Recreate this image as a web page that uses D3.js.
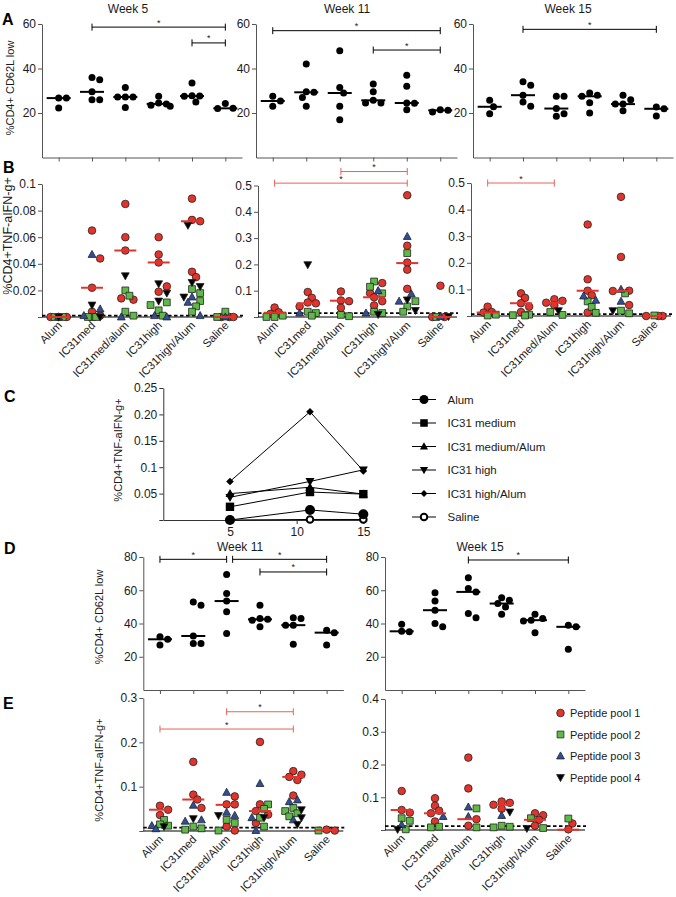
<!DOCTYPE html>
<html><head><meta charset="utf-8">
<script src="https://cdn.jsdelivr.net/npm/d3@7"></script>
<style>
body{margin:0;background:#fff;}
svg{display:block;font-family:"Liberation Sans",Arial,Helvetica,sans-serif;}
</style></head><body>
<svg id="chart" width="676" height="897"></svg>
<script>
// ---------------- DATA ----------------
const categories = ["Alum","IC31med","IC31med/Alum","IC31high","IC31high/Alum","Saline"];
const categoriesWeek5Labels = ["Alum","IC31med","IC31med/alum","IC31high","IC31high/Alum","Saline"];
const weekTitlesA = ["Week 5","Week 11","Week 15"];
const weekTitlesD = ["Week 11","Week 15"];

// Panel A: %CD4+ CD62L low, one array per category
const aWeek5  = [[26.7,26.7,22.2],[36,35,29.5,26,26],[31.5,27.2,27.2,27.2,22.5],[27.5,24.5,24.1,23.5,23],[33.5,27.8,27.6,27.5,25],[24.3,22.1,22]];
const aWeek11 = [[27.5,25.4,23],[42,29.5,29.3,27,23],[48,31.5,29,23,17],[33,29.5,25.7,24.5,24.5],[37,32,24.5,24.4,21.5],[21.5,21.2,20.5]];
const aWeek15 = [[25.7,22.8,19.7],[34,32.5,28,25,23],[27.5,27.5,22,19.7,18.5],[29,28,27.5,24.6,20],[28,26,24,24,21],[22.7,21.9,18.7]];
const aTicks = [20,40,60];
const aTickLabels = ["20","40","60"];
// significance brackets [from, to, level]
const aBrackets5  = [["IC31med","Saline",58.6],["IC31high/Alum","Saline",51.5]];
const aBrackets11 = [["Alum","Saline",57],["IC31high","Saline",48.3]];
const aBrackets15 = [["IC31med","Saline",57.6]];

// Panel B: %CD4+TNF-a IFN-g+, per peptide pool, per category
const bWeek5Pool1 = [[0,0,0],[0.065,0.044,0.022,0.004,0.001],[0.085,0.060,0.050,0.014,0.013],[0.060,0.047,0.041,0.023,0.019],[0.089,0.073,0.072,0.034,0.030],[0,0,0]];
const bWeek5Pool2 = [[0,0],[0,0,0],[0.020,0.016,0.004,0.001],[0.011,0.009,0.005,0.001],[0.021,0.018,0.012,0.008,0.004],[0.004,0]];
const bWeek5Pool3 = [[0],[0.047,0.006,0.001],[0],[0.001,0],[0.015,0.011,0.001],[0]];
const bWeek5Pool4 = [[0],[0.009,0],[0.031],[0.025,0.018,0.012],[0.069,0.026,0.023,0.015],[]];
const bWeek5Median = [0,0.022,0.050,0.041,0.072,0];

const bWeek11Pool1 = [[0.036,0.018,0.012],[0.095,0.073,0.055,0.052,0.040],[0.097,0.063,0.060,0.035],[0.129,0.091,0.075,0.060,0.044],[0.463,0.271,0.207,0.180,0.107],[0.119,0,0]];
const bWeek11Pool2 = [[0.005,0,0],[0.020,0.015,0.005],[0.008,0.003],[0.135,0.115,0.090,0.020,0.015],[0.243,0.060,0.040,0.020],[0]];
const bWeek11Pool3 = [[],[0.015],[],[0.100,0.015],[0.306,0.088,0.060],[0.002]];
const bWeek11Pool4 = [[],[0.199],[],[0.010],[0.065,0.025],[0.002]];
const bWeek11Median = [0.016,0.052,0.062,0.075,0.205,0];

const bWeek15Pool1 = [[0.035,0.015,0.013],[0.085,0.068,0.048,0.035,0.015],[0.063,0.057,0.050,0.040],[0.344,0.138,0.095,0.078,0.013],[0.448,0.222,0.095,0.094,0.041],[0,0,0]];
const bWeek15Pool2 = [[0.005,0.002],[0.005,0.003,0.002],[0.015,0.004],[0.055,0.034,0.012],[0.085,0.020,0.010],[0.002]];
const bWeek15Pool3 = [[],[],[],[0.075,0.059],[0.100,0.055],[]];
const bWeek15Pool4 = [[],[],[0.020],[],[0.020],[]];
const bWeek15Median = [0.013,0.048,0.050,0.095,0.094,0];

const bTicksSmall = [0,0.02,0.04,0.06,0.08,0.1];
const bTickLabelsSmall = ["","0.02","0.04","0.06","0.08","0.1"];
const bTicksLarge = [0,0.1,0.2,0.3,0.4,0.5];
const bTickLabelsLarge = ["","0.1","0.2","0.3","0.4","0.5"];
const bThresholds = [0.001,0.015,0.007];
const bBrackets11 = [["Alum","IC31high/Alum",0.509],["IC31med/Alum","IC31high/Alum",0.553]];
const bBrackets15 = [["Alum","IC31med/Alum",0.5]];

// Panel C: group medians over time
const cWeeks = [5,11,15];
const cSeriesNames = ["Alum","IC31 medium","IC31 medium/Alum","IC31 high","IC31 high/Alum","Saline"];
const cAlum = [0,0.019,0.011];
const cIC31Medium = [0.025,0.053,0.049];
const cIC31MediumAlum = [0.050,0.062,0.049];
const cIC31High = [0.043,0.073,0.095];
const cIC31HighAlum = [0.073,0.205,0.093];
const cSaline = [0,0.001,0.001];
const cXTicks = [5,10,15];
const cYTicks = [0,0.05,0.1,0.15,0.20,0.25];
const cYTickLabels = ["","0.05","0.1","0.15","0.20","0.25"];

// Panel D: %CD4+ CD62L low
const dWeek11 = [[32,30.5,27],[53,51,32.5,28,28],[69.5,58,53.5,47,34],[51,43,42.5,42,38],[43.5,43,39,39,27.5],[36,34.5,27]];
const dWeek15 = [[39.5,35.3,35],[58.5,53.5,48,40,38],[67.5,61,59,46,43.5],[55.5,54,52,50,45.5],[45.5,43,42,41.5,34.5],[39,38,24.5]];
const dTicks = [20,40,60,80];
const dTickLabels = ["20","40","60","80"];
const dBrackets11 = [["Alum","IC31med/Alum",78.6],["IC31med/Alum","Saline",78.6],["IC31high","Saline",71]];
const dBrackets15 = [["IC31med/Alum","Saline",78.2]];

// Panel E: %CD4+TNF-a IFN-g+
const eWeek11Pool1 = [[0.057,0.048,0.036],[0.156,0.082,0.071,0.052],[0.078,0.060,0.060,0.010,0.001],[0.201,0.060,0.045,0.037,0.018],[0.135,0.127,0.122,0.115,0.080],[0.003,0.001]];
const eWeek11Pool2 = [[0.025,0.015,0.012],[0.010,0.006,0.003],[0.025,0.018,0.001],[0.060,0.050,0.030,0.010],[0.052,0.045,0.040,0.033],[0.001]];
const eWeek11Pool3 = [[0.012,0.005],[0.058,0.025,0.022],[0.087,0.042,0.035],[0.107,0.030,0.001],[0.070,0.066,0.025],[]];
const eWeek11Pool4 = [[0.010],[0.028],[0.035],[0.030],[0.048,0.030,0.015],[]];
const eWeek11Median = [0.048,0.071,0.059,0.045,0.122,0.002];

const eWeek15Pool1 = [[0.119,0.061,0.053],[0.097,0.074,0.059,0.051,0.026],[0.221,0.127,0.033,0.013],[0.087,0.083,0.077,0.065],[0.051,0.045,0.031,0.013],[0.020,0.002]];
const eWeek15Pool2 = [[0.036,0.028,0.002],[0.010,0.008],[0.066,0.008],[0.013,0.010,0.008],[0.036,0.006],[0.035]];
const eWeek15Pool3 = [[0.016],[0.041],[0.070,0.041],[0.044],[],[]];
const eWeek15Pool4 = [[0.002],[],[],[0.055],[0.005],[]];
const eWeek15Median = [0.061,0.051,0.033,0.077,0.031,0.001];

const eTicks11 = [0,0.1,0.2,0.3];
const eTickLabels11 = ["","0.1","0.2","0.3"];
const eTicks15 = [0,0.1,0.2,0.3,0.4];
const eTickLabels15 = ["","0.1","0.2","0.3","0.4"];
const eThresholds = [0.0077,0.012];
const eBrackets11 = [["IC31med/Alum","IC31high/Alum",0.269],["Alum","IC31high/Alum",0.23]];
const poolNames = ["Peptide pool 1","Peptide pool 2","Peptide pool 3","Peptide pool 4"];

// ---------------- STYLE / LAYOUT ----------------
const RED="#e3342c", GREEN="#5dba47", BLUE="#2f4f9d", BLK="#000";
const AXIS="#555", TXT="#1a1a1a";
const TICKFONT = 12;
const poolStyle = [{t:"circle",f:RED},{t:"square",f:GREEN},{t:"triUp",f:BLUE},{t:"triDown",f:BLK}];

const svg = d3.select("#chart");
svg.append("rect").attr("width",676).attr("height",897).attr("fill","#fff");

function shapePath(t,s){
  if(t==="square") return `M${-s},${-s}H${s}V${s}H${-s}Z`;
  if(t==="triUp") return `M0,${-s*1.05}L${s},${s*0.75}L${-s},${s*0.75}Z`;
  if(t==="triDown") return `M0,${s*1.05}L${s},${-s*0.75}L${-s},${-s*0.75}Z`;
  if(t==="diamond") return `M0,${-s}L${s},0L0,${s}L${-s},0Z`;
  return "";
}
function drawMarker(g,t,x,y,s,fill,stroke,sw){
  if(t==="circle"||t==="open"){
    g.append("circle").attr("cx",x).attr("cy",y).attr("r",s)
      .attr("fill",fill).attr("stroke",stroke).attr("stroke-width",sw);
  } else {
    g.append("path").attr("d",shapePath(t,s)).attr("transform",`translate(${x},${y})`)
      .attr("fill",fill).attr("stroke",stroke).attr("stroke-width",sw).attr("stroke-linejoin","miter");
  }
}

function swarm(items,xc,y,r,maxOff,overlap){
  const minD=2*r*(overlap||0.9), step=r*1.1;
  const cands=[0]; for(let k=1;k*step<=maxOff+0.01;k++){cands.push(k*step,-k*step);}
  const order=items.map((d,i)=>i).sort((a,b)=>items[b].v-items[a].v);
  const placed=[];
  order.forEach(i=>{
    const py=y(items[i].v);
    let best=0,bestScore=-1;
    for(const off of cands){
      let md=Infinity;
      for(const p of placed){md=Math.min(md,Math.hypot(xc+off-p.x,py-p.y));}
      if(md>=minD){best=off;bestScore=Infinity;break;}
      if(md>bestScore){bestScore=md;best=off;}
    }
    items[i].x=xc+best; items[i].y=py; placed.push({x:items[i].x,y:py});
  });
  return items;
}

function styleAxis(g,lineColor){
  g.selectAll("path.domain").attr("stroke",lineColor).attr("stroke-width",1);
  g.selectAll(".tick line").attr("stroke",lineColor);
  g.selectAll(".tick text").attr("fill",TXT).attr("font-size",TICKFONT).attr("font-family","Liberation Sans, Arial, sans-serif");
}

function yAxis(f,y,ticks,labels){
  const g=svg.append("g").attr("transform",`translate(${f.x0},0)`)
    .call(d3.axisLeft(y).tickValues(ticks).tickFormat((d,i)=>labels[i]).tickSize(4).tickSizeOuter(0).tickPadding(2));
  styleAxis(g,AXIS);
  return g;
}

function brackets(x,y,list,color){
  const used=[];
  list.forEach(([a,b,lvl])=>{
    let xa=x(a), xb=x(b); const yy=y(lvl);
    if(used.some(u=>Math.abs(u.x-xa)<1&&Math.abs(u.y-yy)<1)) xa+=6;
    used.push({x:xb,y:yy});
    const g=svg.append("g");
    g.append("path").attr("d",`M${xa},${yy-3.5}V${yy+3.5}M${xa},${yy}H${xb}M${xb},${yy-3.5}V${yy+3.5}`)
      .attr("stroke",color).attr("stroke-width",1).attr("fill","none");
    g.append("text").attr("x",(xa+xb)/2).attr("y",yy-1.5).attr("text-anchor","middle")
      .attr("font-size",9).attr("fill",TXT).text("*");
  });
}

function catLabels(x,f,labels){
  categories.forEach((c,i)=>{
    svg.append("text").attr("transform",`translate(${x(c)+4},${f.y0+9}) rotate(-45)`)
      .attr("text-anchor","end").attr("font-size",11.3).attr("fill",TXT).text(labels[i]);
  });
}

function dotPanel(f,groups,domain,ticks,labels,bracketList){
  const x=d3.scalePoint().domain(categories).range([f.x0,f.x1]).padding(0.5);
  const y=d3.scaleLinear().domain(domain).range([f.y0,f.y1]);
  const gx=svg.append("g").attr("transform",`translate(0,${f.y0})`)
    .call(d3.axisBottom(x).tickSize(4).tickSizeOuter(0).tickFormat(""));
  styleAxis(gx,AXIS);
  yAxis(f,y,ticks,labels);
  const g=svg.append("g");
  groups.forEach((vals,i)=>{
    const items=swarm(vals.map(v=>({v})),x(categories[i]),y,3.5,12,0.95);
    items.forEach(d=>g.append("circle").attr("cx",d.x).attr("cy",d.y).attr("r",3.5).attr("fill","#000"));
    const m=d3.median(vals), xc=x(categories[i]);
    g.append("line").attr("x1",xc-12).attr("x2",xc+12).attr("y1",y(m)).attr("y2",y(m))
      .attr("stroke","#000").attr("stroke-width",2);
  });
  brackets(x,y,bracketList,"#000");
  return {x,y};
}

function poolPanel(f,pools,medians,domain,ticks,labels,thr,bracketList,catText){
  const x=d3.scalePoint().domain(categories).range([f.x0,f.x1]).padding(0.5);
  const y=d3.scaleLinear().domain(domain).range([f.y0,f.y1]);
  yAxis(f,y,ticks,labels);
  svg.append("line").attr("x1",f.x0).attr("x2",f.x1).attr("y1",f.y0).attr("y2",f.y0)
    .attr("stroke","#000").attr("stroke-width",1.2);
  svg.append("line").attr("x1",f.x0).attr("x2",f.x1+1).attr("y1",y(thr)).attr("y2",y(thr))
    .attr("stroke","#000").attr("stroke-width",1.8).attr("stroke-dasharray","3.5,2.5");
  const g=svg.append("g");
  categories.forEach((c,i)=>{
    const items=[];
    pools.forEach((p,pi)=>(p[i]||[]).forEach(v=>items.push({v,pi})));
    swarm(items,x(c),y,3.7,10,0.8);
    [0,1,2,3].forEach(pi=>{
      items.filter(d=>d.pi===pi).forEach(d=>{
        const st=poolStyle[pi];
        const s= st.t==="circle"?3.8:(st.t==="square"?3.4:3.9);
        drawMarker(g,st.t,d.x,d.y,s,st.f,"#222",0.8);
      });
    });
    const m=medians[i], xc=x(c);
    g.append("line").attr("x1",xc-11).attr("x2",xc+11).attr("y1",y(m)).attr("y2",y(m))
      .attr("stroke",RED).attr("stroke-width",2);
  });
  brackets(x,y,bracketList,"#e8625b");
  catLabels(x,f,catText);
  return {x,y};
}

function panelLetter(t,x,y){
  svg.append("text").attr("x",x).attr("y",y).attr("font-size",16).attr("font-weight","bold").attr("fill","#000").text(t);
}
function yTitle(t,x,y,size){
  svg.append("text").attr("transform",`translate(${x},${y}) rotate(-90)`).attr("text-anchor","middle")
    .attr("font-size",size||10.5).attr("fill",TXT).text(t);
}
function title(t,x,y,size){
  svg.append("text").attr("x",x).attr("y",y).attr("text-anchor","middle").attr("font-size",size||11.5).attr("fill",TXT).text(t);
}

// ---------------- PANEL A ----------------
const fA=[{x0:42,x1:242,y0:157.5,y1:24},{x0:256,x1:457,y0:157.5,y1:24},{x0:473,x1:673,y0:157.5,y1:24}];
panelLetter("A",2,25);
yTitle("%CD4+ CD62L low",14,88,11);
[aWeek5,aWeek11,aWeek15].forEach((d,i)=>{
  dotPanel(fA[i],d,[0,60],aTicks,aTickLabels,[aBrackets5,aBrackets11,aBrackets15][i]);
});
title(weekTitlesA[0],128,13,12); title(weekTitlesA[1],347,13,12); title(weekTitlesA[2],568,13,12);

// ---------------- PANEL B ----------------
const fB=[{x0:42,x1:242,y0:317,y1:184},{x0:258,x1:457,y0:317,y1:185.5},{x0:471,x1:671,y0:316,y1:183}];
panelLetter("B",3,173);
yTitle("%CD4+TNF-aIFN-g+",12,236,12.5);
poolPanel(fB[0],[bWeek5Pool1,bWeek5Pool2,bWeek5Pool3,bWeek5Pool4],bWeek5Median,[0,0.1],bTicksSmall,bTickLabelsSmall,bThresholds[0],[],categoriesWeek5Labels);
poolPanel(fB[1],[bWeek11Pool1,bWeek11Pool2,bWeek11Pool3,bWeek11Pool4],bWeek11Median,[0,0.5],bTicksLarge,bTickLabelsLarge,bThresholds[1],bBrackets11,categories);
poolPanel(fB[2],[bWeek15Pool1,bWeek15Pool2,bWeek15Pool3,bWeek15Pool4],bWeek15Median,[0,0.5],bTicksLarge,bTickLabelsLarge,bThresholds[2],bBrackets15,categories);

// ---------------- PANEL C ----------------
panelLetter("C",4,402);
(function(){
  const f={x0:163.3,x1:366,y0:520,y1:388};
  const x=d3.scaleLinear().domain([0,15.2]).range([f.x0,f.x1]);
  const y=d3.scaleLinear().domain([0,0.25]).range([f.y0,f.y1]);
  const gx=svg.append("g").attr("transform",`translate(0,${f.y0})`)
    .call(d3.axisBottom(x).tickValues(cXTicks).tickSize(4).tickSizeOuter(0).tickFormat(d3.format("d")));
  styleAxis(gx,"#333");
  const gy=yAxis(f,y,cYTicks,cYTickLabels);
  gy.selectAll("path.domain,.tick line").attr("stroke","#333");
  yTitle("%CD4+TNF-aIFN-g+",122,450,11);
  const series=[cAlum,cIC31Medium,cIC31MediumAlum,cIC31High,cIC31HighAlum,cSaline];
  const shapes=["circle","square","triUp","triDown","diamond","open"];
  const sizes=[5,4.2,4.5,4.5,3.8,4.2];
  const line=d3.line().x((d,i)=>x(cWeeks[i])).y(d=>y(d));
  const g=svg.append("g");
  series.forEach((s,k)=>{
    g.append("path").attr("d",line(s)).attr("fill","none").attr("stroke","#000").attr("stroke-width",1);
  });
  [5,0,1,2,3,4].forEach(k=>{
    series[k].forEach((v,i)=>{
      if(shapes[k]==="open") drawMarker(g,"open",x(cWeeks[i]),y(v),sizes[k]-0.9,"#fff","#000",2);
      else drawMarker(g,shapes[k],x(cWeeks[i]),y(v),sizes[k],"#000","none",0);
    });
  });
  // legend
  const lg=svg.append("g");
  cSeriesNames.forEach((n,k)=>{
    const yy=399.5+k*23.5;
    lg.append("line").attr("x1",412).attr("x2",436).attr("y1",yy).attr("y2",yy).attr("stroke","#000").attr("stroke-width",1);
    if(shapes[k]==="open") drawMarker(lg,"open",424,yy,sizes[k]-0.9,"#fff","#000",2);
    else drawMarker(lg,shapes[k],424,yy,sizes[k]*0.9,"#000","none",0);
    lg.append("text").attr("x",447.5).attr("y",yy+4).attr("font-size",11.5).attr("fill",TXT).text(n);
  });
})();

// ---------------- PANEL D ----------------
panelLetter("D",4,554);
yTitle("%CD4+ CD62L low",103,617,11);
const fD=[{x0:143.3,x1:343.3,y0:690,y1:557},{x0:385,x1:585,y0:690,y1:557}];
dotPanel(fD[0],dWeek11,[0,80],dTicks,dTickLabels,dBrackets11);
dotPanel(fD[1],dWeek15,[0,80],dTicks,dTickLabels,dBrackets15);
title(weekTitlesD[0],240,551,12); title(weekTitlesD[1],480,551,12);

// ---------------- PANEL E ----------------
panelLetter("E",3,709);
yTitle("%CD4+TNF-aIFN-g+",103,770,11);
const fE=[{x0:143.3,x1:343.3,y0:831,y1:698},{x0:385,x1:585,y0:830,y1:699}];
poolPanel(fE[0],[eWeek11Pool1,eWeek11Pool2,eWeek11Pool3,eWeek11Pool4],eWeek11Median,[0,0.3],eTicks11,eTickLabels11,eThresholds[0],eBrackets11,categories);
poolPanel(fE[1],[eWeek15Pool1,eWeek15Pool2,eWeek15Pool3,eWeek15Pool4],eWeek15Median,[0,0.4],eTicks15,eTickLabels15,eThresholds[1],[],categories);
// legend E
(function(){
  const lg=svg.append("g");
  poolNames.forEach((n,k)=>{
    const yy=713+k*21.5, st=poolStyle[k];
    const s= st.t==="circle"?3.8:(st.t==="square"?3.4:3.9);
    drawMarker(lg,st.t,560.5,yy,s,st.f,"#222",0.8);
    lg.append("text").attr("x",570).attr("y",yy+4).attr("font-size",11).attr("fill",TXT).text(n);
  });
})();
</script></body></html>
